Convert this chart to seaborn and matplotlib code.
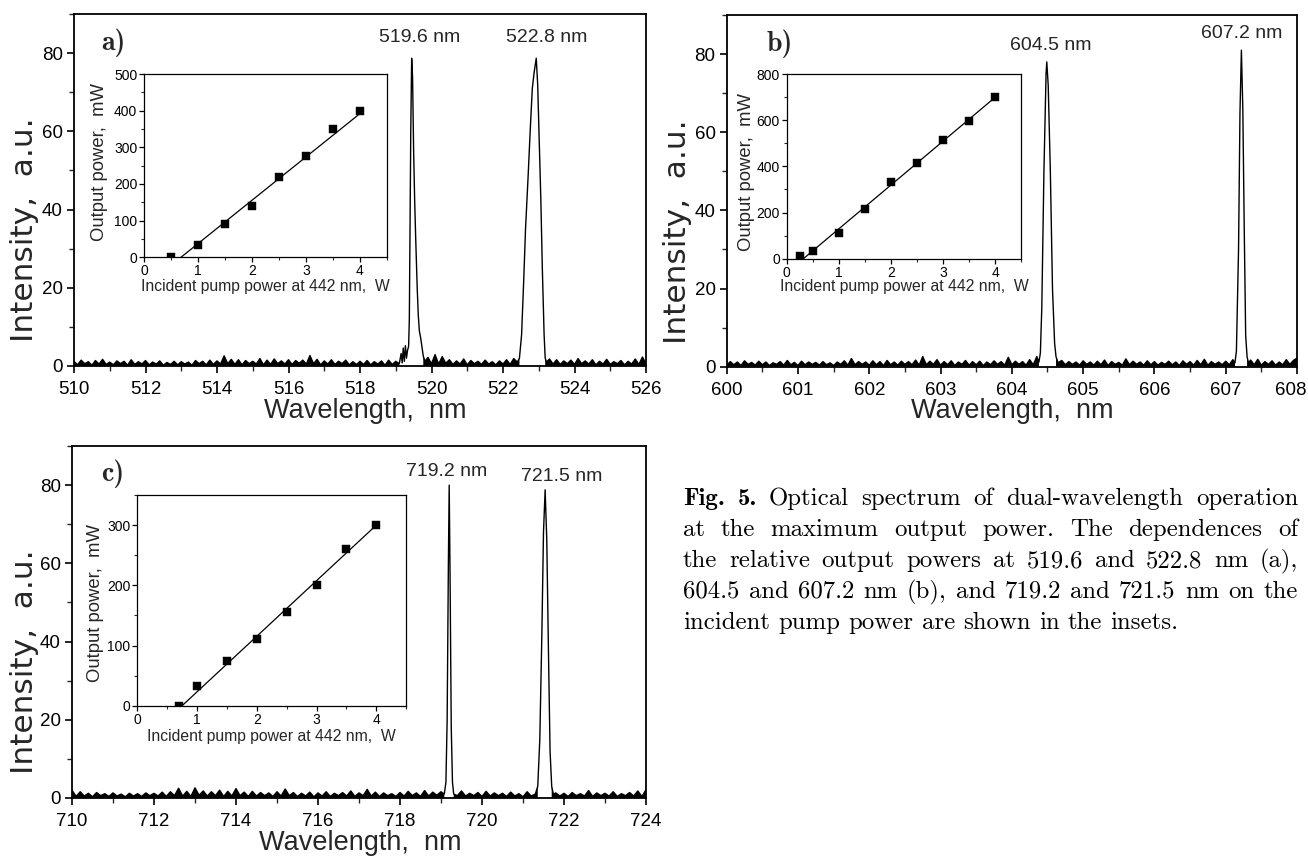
import numpy as np
import matplotlib
matplotlib.use("Agg")
import matplotlib.pyplot as plt
from matplotlib.ticker import MultipleLocator, FixedLocator
from matplotlib.transforms import ScaledTranslation
import seaborn as sns

# ---------------- data ----------------
# spectrum baselines (uniform grid over each panel's range)
a_range = (510.0, 526.0)
a_noise = [
    1.2,0.3,1.5,0.6,1.1,0.2,1.4,0.5,1.7,0.4,1.0,0.3,1.3,0.6,1.2,0.2,1.6,0.4,1.1,0.5,
    1.4,0.3,1.0,0.5,1.3,0.2,0.9,0.4,1.2,0.3,1.1,0.5,1.0,0.2,1.4,0.6,1.2,0.3,1.5,0.4,
    1.3,0.5,2.6,0.6,1.7,0.4,1.6,0.3,1.4,0.6,1.2,0.5,1.9,0.3,1.5,0.4,1.8,0.6,1.3,0.5,
    1.6,0.4,1.4,0.7,1.5,0.5,2.7,0.6,1.7,0.3,1.3,0.5,1.6,0.4,1.2,0.6,1.5,0.3,1.1,0.4,
    1.2,0.4,1.4,0.3,1.1,0.5,1.3,0.2,1.5,0.4,1.2,0.6,1.0,1.0,1.0,1.0,1.0,1.0,1.0,2.2,
    0.6,2.9,0.5,2.4,0.7,1.6,0.4,1.3,0.5,1.8,0.3,1.4,0.6,1.2,0.4,1.5,0.5,1.1,0.3,1.3,
    0.5,1.6,0.4,1.9,1.0,1.0,1.0,1.0,1.0,1.0,1.0,1.0,1.0,1.8,0.5,1.6,0.4,1.3,0.6,1.5,
    0.4,1.9,0.6,1.3,0.5,1.6,0.3,1.2,0.5,1.7,0.4,1.1,0.6,1.4,0.3,1.2,0.5,1.8,0.4,2.3,
    0.6,
]
a_peak_wl = [519.15,519.18,519.21,519.24,519.27,519.30,519.33,519.36,519.38,519.40,519.42,
             519.445,519.47,519.50,519.53,519.56,519.60,519.63,519.66,519.70,519.73,519.77,519.82,
             522.40,522.46,522.52,522.58,522.63,522.70,522.76,522.82,522.87,522.93,522.97,
             523.02,523.06,523.10,523.15,523.18,523.22]
a_peak_int = [3.2,0.8,4.6,1.2,5.2,2.0,4.0,5.0,12,38,60,
              78.7,74,55,42,32,20,13,9,7,5,2.5,1.2,
              1.0,2.0,8,22,35,48,60,71,75,78.7,72,
              55,42,25,8,2.0,1.0]
a_windows = [(519.15, 519.85), (522.38, 523.25)]

b_range = (600.0, 608.0)
b_noise = [
    0.4,1.3,0.5,1.2,0.3,1.5,0.6,1.1,0.4,1.4,0.5,1.2,0.3,1.0,0.6,1.3,0.4,1.6,0.5,1.1,
    0.3,1.4,0.5,1.2,0.6,1.1,0.4,1.3,0.5,1.0,0.3,1.2,0.6,1.5,0.4,2.1,0.5,1.3,0.6,1.2,
    0.4,1.5,0.5,1.3,0.3,1.6,0.5,1.2,0.4,1.4,0.6,1.3,0.5,1.7,0.4,2.6,0.5,1.4,0.6,1.8,
    0.4,1.3,0.5,1.5,0.3,1.2,0.6,1.6,0.4,1.3,0.5,1.4,0.3,1.2,0.5,1.5,0.6,1.3,0.4,2.4,
    0.5,1.4,0.6,1.3,0.4,1.8,0.5,2.6,1.0,1.0,1.0,1.0,1.0,1.0,1.6,0.5,1.3,0.6,1.2,0.4,
    1.5,0.6,1.2,0.4,1.4,0.5,1.7,0.3,1.3,0.6,1.1,0.4,2.0,0.5,1.4,0.6,1.2,0.4,1.5,0.5,
    1.3,0.4,1.1,0.6,1.4,0.5,1.2,0.3,1.5,0.6,1.3,0.4,1.6,0.5,1.9,0.4,1.3,0.6,1.2,0.5,
    1.4,0.5,1.8,1.0,1.0,1.0,1.0,1.7,0.5,1.9,0.4,1.3,0.6,1.5,0.4,1.2,0.5,1.8,0.6,1.6,
    2.2,
]
b_peak_wl = [604.38,604.40,604.42,604.45,604.48,604.49,604.51,604.54,604.57,604.60,604.62,604.65,
             607.13,607.15,607.18,607.20,607.22,607.24,607.26,607.28,607.30,607.32]
b_peak_int = [1.2,3.5,15,50,75,78,72,50,20,6,2.5,1.0,
              1.0,4,30,65,81,66,35,8,2.5,1.0]
b_windows = [(604.37, 604.66), (607.12, 607.33)]

c_range = (710.0, 724.0)
c_noise = [
    2.0,0.4,1.6,0.5,1.2,0.3,1.4,0.6,1.1,0.4,1.3,0.5,1.0,0.3,1.2,0.5,1.1,0.4,1.3,0.6,
    1.2,0.5,1.5,0.4,1.6,0.6,2.5,0.5,1.7,0.4,2.6,0.7,1.8,0.5,1.6,0.6,2.0,0.4,1.7,0.5,
    2.4,0.6,1.5,0.4,1.7,0.5,1.4,0.6,1.3,0.4,1.6,0.5,2.3,0.6,1.4,0.4,1.2,0.5,1.5,0.3,
    1.3,0.5,1.6,0.4,1.2,0.6,1.4,0.5,1.8,0.4,1.3,0.6,2.2,0.5,1.5,0.4,1.3,0.6,1.1,0.4,
    1.4,0.5,1.7,0.6,1.3,0.4,1.9,0.5,1.5,0.7,1.6,1.0,1.0,1.0,0.6,1.8,0.5,1.2,0.6,1.4,
    0.4,1.7,0.5,1.3,0.6,1.2,0.4,1.5,0.5,1.1,0.3,1.6,0.5,1.0,1.0,1.0,1.0,1.0,1.3,0.5,
    1.2,0.4,1.4,0.6,1.1,0.5,1.9,0.4,1.3,0.6,1.2,0.5,1.6,0.4,1.1,0.6,1.4,0.5,1.8,0.4,
    2.1,
]
c_peak_wl = [719.08,719.12,719.15,719.18,719.20,719.22,719.25,719.28,719.31,
             721.30,721.36,721.41,721.46,721.50,721.54,721.58,721.62,721.66,721.70,721.74]
c_peak_int = [1.0,4,20,60,80,58,18,4,1.0,
              1.0,3,15,42,68,78.8,66,38,12,3,1.0]
c_windows = [(719.06, 719.32), (721.28, 721.76)]

# peak labels
a_labels = ["519.6 nm", "522.8 nm"]
b_labels = ["604.5 nm", "607.2 nm"]
c_labels = ["719.2 nm", "721.5 nm"]

# x tick values
a_xticks = [510, 512, 514, 516, 518, 520, 522, 524, 526]
b_xticks = [600, 601, 602, 603, 604, 605, 606, 607, 608]
c_xticks = [710, 712, 714, 716, 718, 720, 722, 724]

# insets: output power vs incident pump power
a_pump = [0.5, 1.0, 1.5, 2.0, 2.5, 3.0, 3.5, 4.0]
a_out = [0, 33, 90, 140, 220, 275, 350, 400]
a_fit_x = [0.68, 4.0]
a_fit_y = [0, 392]

b_pump = [0.25, 0.5, 1.0, 1.5, 2.0, 2.5, 3.0, 3.5, 4.0]
b_out = [10, 33, 113, 215, 333, 413, 515, 597, 700]
b_fit_x = [0.32, 4.0]
b_fit_y = [0, 700]

c_pump = [0.7, 1.0, 1.5, 2.0, 2.5, 3.0, 3.5, 4.0]
c_out = [0, 33, 74, 110, 155, 200, 260, 300]
c_fit_x = [0.75, 4.0]
c_fit_y = [0, 300]

caption_lines = [
    "Fig. 5. Optical spectrum of dual-wavelength operation",
    "at the maximum output power.  The dependences of",
    "the relative output powers at 519.6 and 522.8 nm (a),",
    "604.5 and 607.2 nm (b), and 719.2 and 721.5 nm on the",
    "incident pump power are shown in the insets.",
]

# ---------------- style ----------------
sns.set_style("ticks")
plt.rcParams["font.family"] = ["Liberation Sans", "DejaVu Sans"]
plt.rcParams["axes.linewidth"] = 1.3
plt.rcParams["axes.edgecolor"] = "black"

FW, FH = 1308, 858
fig = plt.figure(figsize=(FW / 100, FH / 100), dpi=100)


def px_rect(l, t, r, b):
    return [l / FW, 1 - b / FH, (r - l) / FW, (b - t) / FH]


def spectrum(rng, noise, pwl, pint, windows):
    grid = np.linspace(rng[0], rng[1], len(noise))
    noise = np.asarray(noise, float)
    keep = np.ones(len(grid), bool)
    for lo, hi in windows:
        keep &= ~((grid >= lo) & (grid <= hi))
    wl = np.concatenate([grid[keep], np.asarray(pwl, float)])
    it = np.concatenate([noise[keep], np.asarray(pint, float)])
    order = np.argsort(wl)
    return wl[order], it[order]


def main_panel(rect, rng, noise, pwl, pint, windows, xticks, xminor, labels,
               label_pos, tag, tag_pos, ylab_pos, xlab_pos, last_shift=0):
    ax = fig.add_axes(rect)
    wl, it = spectrum(rng, noise, pwl, pint, windows)
    sns.lineplot(x=wl, y=it, ax=ax, color="black", linewidth=1.0,
                 estimator=None, sort=False)
    # dense noise band under the baseline trace
    ax.fill_between(wl, 0, it, where=it < 3.2, color="black", linewidth=0)
    ax.set_xlim(*rng)
    ax.set_ylim(0, 90)
    ax.xaxis.set_major_locator(FixedLocator(xticks))
    ax.xaxis.set_minor_locator(MultipleLocator(xminor))
    ax.yaxis.set_major_locator(MultipleLocator(20))
    ax.yaxis.set_minor_locator(MultipleLocator(10))
    ax.tick_params(which="major", direction="out", length=5, width=1.2,
                   labelsize=13.5, colors="black")
    ax.tick_params(axis="x", which="major", pad=6)
    ax.tick_params(axis="y", which="major", pad=3)
    ax.tick_params(which="minor", direction="out", length=3.5, width=1.0)
    for s in ax.spines.values():
        s.set_visible(True)
        s.set_linewidth(1.3)
    ax.set_xlabel("Wavelength,  nm", fontsize=19.5, va="center")
    ax.set_ylabel("Intensity,  a.u.", fontsize=22.5, family="DejaVu Sans",
                  va="center", ha="center")
    ax.xaxis.set_label_coords(*xlab_pos)
    ax.yaxis.set_label_coords(*ylab_pos)
    if last_shift:
        lab = ax.xaxis.get_major_ticks()[-1].label1
        lab.set_transform(lab.get_transform() +
                          ScaledTranslation(last_shift / 100, 0, fig.dpi_scale_trans))
    for lab, (x, y) in zip(labels, label_pos):
        ax.text(x, y, lab, fontsize=14, ha="center", va="center")
    ax.text(tag_pos[0], tag_pos[1], tag, transform=ax.transAxes, fontsize=20,
            family="cmb10", ha="center", va="center")
    return ax


def inset(rect, px, py, fx, fy, ymax, ymajor, yminor, ylab_pos, xlab_pos):
    ax = fig.add_axes(rect)
    sns.lineplot(x=fx, y=fy, ax=ax, color="black", linewidth=0.9,
                 estimator=None, sort=False)
    sns.scatterplot(x=px, y=py, ax=ax, marker="s", s=40, color="black",
                    edgecolor="black", linewidth=0.3, zorder=3)
    ax.set_xlim(0, 4.5)
    ax.set_ylim(0, ymax)
    ax.xaxis.set_major_locator(MultipleLocator(1))
    ax.xaxis.set_minor_locator(MultipleLocator(0.5))
    ax.yaxis.set_major_locator(MultipleLocator(ymajor))
    ax.yaxis.set_minor_locator(MultipleLocator(yminor))
    ax.tick_params(which="major", direction="out", length=3.5, width=0.9,
                   labelsize=10, pad=1.5, colors="black")
    ax.tick_params(which="minor", direction="out", length=2, width=0.8)
    for s in ax.spines.values():
        s.set_visible(True)
        s.set_linewidth(0.9)
    ax.set_xlabel("Incident pump power at 442 nm,  W", fontsize=11.3, va="center")
    ax.set_ylabel("Output power,  mW", fontsize=13.3, va="center", ha="center")
    ax.xaxis.set_label_coords(*xlab_pos)
    ax.yaxis.set_label_coords(*ylab_pos)
    return ax


axa = main_panel(px_rect(74, 14, 646, 366), a_range, a_noise, a_peak_wl, a_peak_int,
                 a_windows, a_xticks, 1, a_labels, [(519.68, 84.1), (523.23, 84.1)],
                 "a)", (0.068, 0.918), (-0.0857, 0.386), (0.51, -0.128))
axb = main_panel(px_rect(726.7, 15, 1297, 366.7), b_range, b_noise, b_peak_wl, b_peak_int,
                 b_windows, b_xticks, 0.5, b_labels, [(604.54, 82.3), (607.23, 85.3)],
                 "b)", (0.0935, 0.9195), (-0.0854, 0.383), (0.50, -0.126),
                 last_shift=-6)
axc = main_panel(px_rect(72, 446, 646, 798), c_range, c_noise, c_peak_wl, c_peak_int,
                 c_windows, c_xticks, 1, c_labels, [(719.14, 83.5), (721.94, 82.2)],
                 "c)", (0.0706, 0.922), (-0.0819, 0.386), (0.502, -0.128))

inset(px_rect(144.3, 74, 386.9, 257.3), a_pump, a_out, a_fit_x, a_fit_y,
      500, 100, 50, (-0.183, 0.52), (0.5, -0.16))
inset(px_rect(786.7, 74, 1021.5, 258.7), b_pump, b_out, b_fit_x, b_fit_y,
      800, 200, 100, (-0.170, 0.47), (0.5, -0.153))
inset(px_rect(137.3, 495, 406.2, 705.7), c_pump, c_out, c_fit_x, c_fit_y,
      350, 100, 50, (-0.157, 0.487), (0.5, -0.147))

# ---------------- caption (justified) ----------------
x0, x1 = 683, 1298
base0, lead = 505, 31
renderer = fig.canvas.get_renderer()


def fam_for(i, j):
    return "cmb10" if (i == 0 and j < 2) else "cmr10"


# choose the size at which the longest justified line just fits
REF = 10.0
ratios = []
for i, line in enumerate(caption_lines[:-1]):
    words = line.split()
    tw = 0
    for j, w in enumerate(words):
        t = fig.text(0, 0, w, fontsize=REF, family=fam_for(i, j))
        tw += t.get_window_extent(renderer).width
        t.remove()
    natural = tw + (len(words) - 1) * REF * 100 / 72 * 0.333
    ratios.append((x1 - x0) / natural)
CAP_FS = REF * min(ratios) * 0.99

for i, line in enumerate(caption_lines):
    words = line.split()
    texts = []
    for j, w in enumerate(words):
        texts.append(fig.text(0, 0, w, fontsize=CAP_FS, family=fam_for(i, j),
                              ha="left", va="baseline", color="black"))
    widths = [t.get_window_extent(renderer).width for t in texts]
    if i < len(caption_lines) - 1:
        gap = (x1 - x0 - sum(widths)) / (len(words) - 1)
    else:
        gap = CAP_FS * 100 / 72 * 0.333
    x = x0
    y = base0 + i * lead
    for t, w in zip(texts, widths):
        t.set_position((x / FW, 1 - y / FH))
        x += w + gap

fig.savefig("out.png", dpi=100)
